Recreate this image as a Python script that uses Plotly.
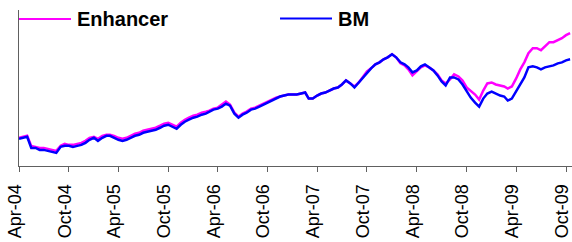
import plotly.graph_objects as go

# Semi-monthly observation dates
dates = [
    "2004-04-01","2004-04-16","2004-05-01","2004-05-16","2004-06-01","2004-06-16",
    "2004-07-01","2004-07-16","2004-08-01","2004-08-16","2004-09-01","2004-09-16",
    "2004-10-01","2004-10-16","2004-11-01","2004-11-16","2004-12-01","2004-12-16",
    "2005-01-01","2005-01-16","2005-02-01","2005-02-16","2005-03-01","2005-03-16",
    "2005-04-01","2005-04-16","2005-05-01","2005-05-16","2005-06-01","2005-06-16",
    "2005-07-01","2005-07-16","2005-08-01","2005-08-16","2005-09-01","2005-09-16",
    "2005-10-01","2005-10-16","2005-11-01","2005-11-16","2005-12-01","2005-12-16",
    "2006-01-01","2006-01-16","2006-02-01","2006-02-16","2006-03-01","2006-03-16",
    "2006-04-01","2006-04-16","2006-05-01","2006-05-16","2006-06-01","2006-06-16",
    "2006-07-01","2006-07-16","2006-08-01","2006-08-16","2006-09-01","2006-09-16",
    "2006-10-01","2006-10-16","2006-11-01","2006-11-16","2006-12-01","2006-12-16",
    "2007-01-01","2007-01-16","2007-02-01","2007-02-16","2007-03-01","2007-03-16",
    "2007-04-01","2007-04-16","2007-05-01","2007-05-16","2007-06-01","2007-06-16",
    "2007-07-01","2007-07-16","2007-08-01","2007-08-16","2007-09-01","2007-09-16",
    "2007-10-01","2007-10-16","2007-11-01","2007-11-16","2007-12-01","2007-12-16",
    "2008-01-01","2008-01-16","2008-02-01","2008-02-16","2008-03-01","2008-03-16",
    "2008-04-01","2008-04-16","2008-05-01","2008-05-16","2008-06-01","2008-06-16",
    "2008-07-01","2008-07-16","2008-08-01","2008-08-16","2008-09-01","2008-09-16",
    "2008-10-01","2008-10-16","2008-11-01","2008-11-16","2008-12-01","2008-12-16",
    "2009-01-01","2009-01-16","2009-02-01","2009-02-16","2009-03-01","2009-03-16",
    "2009-04-01","2009-04-16","2009-05-01","2009-05-16","2009-06-01","2009-06-16",
    "2009-07-01","2009-07-16","2009-08-01","2009-08-16","2009-09-01","2009-09-16",
    "2009-10-01","2009-10-16",
]

enhancer = [
    101,102,103,93,92,91, 91,90,89,88,93,95, 94,94,95,96,98,101,
    102,100,103,104,104,103, 101,100,101,103,105,106, 108,109,110,111,113,115,
    116,114,112,116,119,121, 123,124,126,127,128,130, 131,134,137,134,126,122,
    125,127,130,131,133,135, 137,139,141,142,143,144, 144,144,145,146,140,140,
    143,145,146,148,150,151, 154,158,155,152,156,162, 167,170,174,176,179,181,
    184,181,175,173,169,163, 167,171,173,171,168,164, 158,155,159,164,162,158,
    151,148,144,139,148,155, 156,154,153,152,150,152, 160,169,176,185,190,190,
    188,192,196,196,198,200, 203,205,
]

bm = [
    100,101,102,91,91,89, 89,88,87,86,92,93, 93,92,93,94,96,99,
    101,98,101,103,103,101, 99,98,99,101,103,104, 106,107,108,109,111,113,
    114,112,110,114,117,119, 121,122,124,125,127,129, 130,132,135,133,125,121,
    124,126,129,130,132,134, 136,138,140,142,143,144, 144,144,145,146,140,140,
    143,145,146,148,150,151, 154,158,155,151,156,161, 166,170,174,176,179,181,
    184,181,176,174,171,166, 168,172,174,171,168,163, 157,153,161,161,159,154,
    147,141,136,132,140,145, 147,145,143,142,138,140, 147,155,161,171,172,171,
    169,171,172,173,175,176, 178,179,
]

tick_vals = [
    "2004-04-01","2004-10-01","2005-04-01","2005-10-01","2006-04-01","2006-10-01",
    "2007-04-01","2007-10-01","2008-04-01","2008-10-01","2009-04-01","2009-10-01",
]
tick_text = [
    "Apr-04","Oct-04","Apr-05","Oct-05","Apr-06","Oct-06",
    "Apr-07","Oct-07","Apr-08","Oct-08","Apr-09","Oct-09",
]

series_names = ["Enhancer", "BM"]
series_colors = ["#FF00FF", "#0000FF"]

fig = go.Figure()
fig.add_trace(go.Scatter(x=dates, y=enhancer, mode="lines", name=series_names[0],
                         line=dict(color=series_colors[0], width=2.5), showlegend=False))
fig.add_trace(go.Scatter(x=dates, y=bm, mode="lines", name=series_names[1],
                         line=dict(color=series_colors[1], width=2.5), showlegend=False))

# Legend drawn as line samples + bold text (positions in paper coords)
legend_items = [
    (0.0, 0.094, 0.102, 0.942),   # x0, x1, text x, y
    (0.472, 0.566, 0.574, 0.945),
]
for (x0, x1, tx, yy), name, col in zip(legend_items, series_names, series_colors):
    fig.add_shape(type="line", xref="paper", yref="paper", x0=x0, x1=x1, y0=yy, y1=yy,
                  line=dict(color=col, width=2))
    fig.add_annotation(xref="paper", yref="paper", x=tx, y=yy, xanchor="left", yanchor="middle",
                       text="<b>%s</b>" % name, showarrow=False,
                       font=dict(family="Liberation Sans, Arial", size=20, color="black"))

fig.update_layout(
    width=572, height=242,
    margin=dict(l=19, r=0, t=10, b=76),
    paper_bgcolor="white", plot_bgcolor="white",
    showlegend=False,
    font=dict(family="Liberation Sans, Arial", color="black"),
)
fig.update_xaxes(
    type="date", range=["2004-04-01", "2009-10-23"],
    tickvals=tick_vals, ticktext=tick_text, tickangle=-90,
    ticks="outside", ticklen=5, tickcolor="#606060", tickwidth=1,
    showline=True, linecolor="#606060", linewidth=1,
    showgrid=False, zeroline=False, automargin=False,
    tickfont=dict(family="Liberation Sans, Arial", size=18, color="black"),
    ticklabelstandoff=5, ticklabeloverflow="allow", ticklabelshift=-4,
)
fig.update_yaxes(
    range=[73, 228], showticklabels=False, ticks="",
    showline=True, linecolor="#606060", linewidth=1,
    showgrid=False, zeroline=False, automargin=False,
)

fig.write_html(
    "out.html",
    config={"displayModeBar": False, "staticPlot": True},
    post_script="document.body.style.margin='0px';document.body.style.overflow='hidden';",
)
